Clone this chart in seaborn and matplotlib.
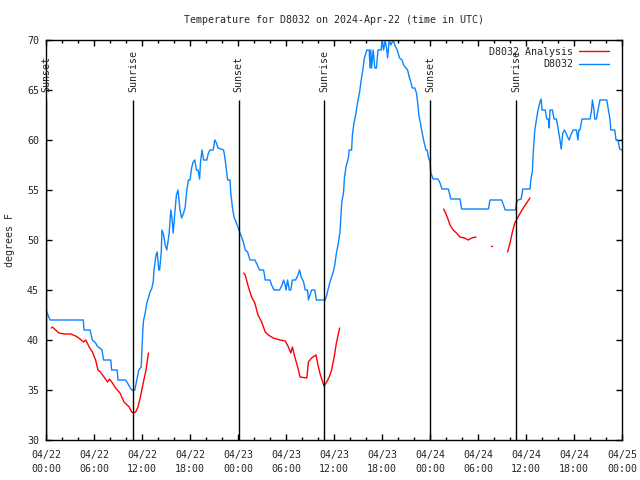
import numpy as np
import pandas as pd
import matplotlib
matplotlib.use("Agg")
import matplotlib.pyplot as plt
import matplotlib.dates as mdates
from matplotlib.lines import Line2D
import seaborn as sns

start = pd.Timestamp("2024-04-22 00:00")

# observed station temps (hours after start, deg F)
obs_hours = [0.0, 0.5, 4.67, 4.75, 5.5, 5.8, 6.2, 6.4, 7.0, 7.2, 8.1, 8.2, 8.9, 9.0, 9.96,
             10.7, 11.1, 11.6, 11.9, 12.1, 12.2, 12.4, 12.6, 12.8, 13.0, 13.2, 13.4, 13.5,
             13.75, 13.9, 14.1, 14.2, 14.4, 14.5, 14.7, 14.9, 15.1, 15.4, 15.6, 15.75, 15.9,
             16.1, 16.3, 16.5, 16.75, 16.96, 17.2, 17.4, 17.6, 17.8, 18.0, 18.2, 18.4, 18.6,
             18.8, 19.0, 19.2, 19.3, 19.5, 19.7, 20.1, 20.3, 20.5, 20.9, 21.1, 21.3, 21.5,
             22.2, 22.4, 22.6, 22.7, 23.0, 23.1, 23.3, 23.5, 23.75, 24.04, 24.25, 24.5, 24.7,
             24.9, 25.2, 25.5, 26.1, 26.3, 26.7, 27.2, 27.4, 28.0, 28.2, 28.5, 29.2, 29.5,
             29.7, 29.9, 30.0, 30.2, 30.4, 30.6, 30.8, 31.2, 31.5, 31.7, 31.9, 32.2, 32.4,
             32.7, 32.8, 33.0, 33.2, 33.6, 33.8, 34.9, 35.1, 35.3, 35.5, 35.7, 35.9, 36.1,
             36.3, 36.5, 36.75, 36.96, 37.2, 37.3, 37.5, 37.8, 37.9, 38.2, 38.3, 38.5, 38.75,
             38.96, 39.2, 39.4, 39.6, 39.8, 40.1, 40.4, 40.5, 40.6, 40.7, 40.9, 41.1, 41.3,
             41.5, 41.9, 42.0, 42.2, 42.4, 42.6, 42.7, 42.9, 43.1, 43.4, 43.6, 43.9, 44.2,
             44.5, 44.7, 45.0, 45.2, 45.4, 45.6, 45.8, 46.1, 46.3, 46.5, 46.6, 46.8, 47.0,
             47.25, 47.5, 47.65, 47.8, 48.0, 48.1, 48.4, 49.0, 49.25, 49.5, 50.3, 50.6, 51.75,
             51.96, 55.3, 55.5, 56.96, 57.4, 58.7, 58.8, 59.0, 59.4, 59.6, 60.5, 60.6, 60.8,
             60.9, 61.1, 61.3, 61.5, 61.75, 61.9, 62.0, 62.4, 62.6, 62.8, 62.9, 63.0, 63.3,
             63.5, 63.8, 64.0, 64.25, 64.4, 64.6, 64.8, 65.0, 65.2, 65.4, 65.6, 65.9, 66.3,
             66.5, 66.6, 66.75, 67.0, 68.0, 68.2, 68.3, 68.5, 68.6, 68.8, 69.0, 69.25, 70.1,
             70.3, 70.5, 70.6, 71.1, 71.25, 71.5, 71.7, 72.0]
obs_temps = [43.0, 42.0, 42.0, 41.0, 41.0, 40.0, 39.7, 39.4, 39.0, 38.0, 38.0, 37.0, 37.0, 36.0, 36.0,
             35.0, 35.0, 37.0, 37.3, 41.0, 42.0, 42.7, 43.7, 44.2, 44.8, 45.1, 45.8, 47.0,
             48.5, 48.8, 47.0, 47.0, 48.7, 51.0, 50.5, 49.5, 49.0, 50.7, 53.0, 52.2, 50.7,
             52.7, 54.5, 55.0, 53.0, 52.2, 52.7, 53.3, 55.0, 56.0, 56.0, 57.2, 57.8, 58.0,
             57.0, 57.0, 56.1, 57.7, 59.0, 58.0, 58.0, 58.7, 59.0, 59.0, 60.0, 59.7, 59.2,
             59.0, 58.0, 56.7, 56.0, 56.0, 54.7, 53.3, 52.3, 51.8, 51.2, 50.7, 50.2, 49.7,
             49.0, 48.8, 48.0, 48.0, 47.7, 47.0, 47.0, 46.0, 46.0, 45.5, 45.0, 45.0, 45.5,
             46.0, 45.5, 45.0, 46.0, 45.0, 45.0, 46.0, 46.0, 46.5, 47.0, 46.3, 45.8, 45.0,
             45.0, 44.0, 44.5, 45.0, 45.0, 44.0, 44.0, 44.5, 45.2, 45.8, 46.3, 46.8, 47.5,
             48.7, 49.5, 50.8, 53.7, 54.8, 56.2, 57.3, 58.2, 59.0, 59.0, 60.5, 61.7, 62.7,
             63.8, 64.8, 66.0, 67.0, 68.2, 69.0, 69.0, 67.2, 69.0, 67.2, 69.0, 67.2, 67.2,
             69.0, 69.0, 70.0, 69.0, 70.0, 69.0, 68.2, 70.0, 69.5, 70.0, 69.5, 69.0, 68.2,
             68.0, 67.5, 67.2, 67.0, 66.3, 65.8, 65.2, 65.2, 64.7, 63.5, 62.5, 61.7, 60.8,
             59.8, 59.0, 59.0, 58.3, 57.8, 56.7, 56.1, 56.1, 55.7, 55.1, 55.1, 54.1, 54.1,
             53.1, 53.1, 54.0, 54.0, 53.0, 53.0, 53.7, 54.0, 54.1, 55.1, 55.1, 56.0, 56.9,
             58.7, 61.0, 62.0, 63.0, 63.8, 64.1, 63.0, 63.0, 62.1, 62.1, 61.2, 63.0, 63.0,
             62.1, 62.1, 61.2, 60.0, 59.1, 60.7, 61.0, 60.7, 60.3, 60.0, 60.5, 61.0, 61.0,
             60.0, 61.0, 61.0, 62.1, 62.1, 63.0, 64.0, 63.0, 62.1, 62.1, 63.0, 64.0, 64.0,
             63.0, 62.1, 61.0, 61.0, 60.0, 60.0, 59.1, 59.0]

# analysis temps, nan marks a gap
ana_hours = [0.67, 0.8, 1.2, 1.6, 2.25, 3.1, 3.7, 4.1, 4.7, 4.96, 5.4, 5.8, 6.2, 6.5, 6.8, 7.25,
             7.7, 7.96, 8.3, 8.7, 9.25, 9.75, 10.4, 10.7, 10.9, 11.2, 11.5, 11.8, 12.1, 12.5, 12.8,
             np.nan,
             24.7, 24.9, 25.3, 25.7, 26.1, 26.5, 26.96, 27.4, 27.8, 28.4, 29.25, 29.9, 30.3,
             30.6, 30.8, 31.1, 31.5, 31.75, 32.6, 32.8, 33.2, 33.75, 34.0, 34.3, 34.75, 35.1,
             35.4, 35.7, 36.0, 36.3, 36.7,
             np.nan,
             49.7, 49.9, 50.2, 50.5, 50.9, 51.3, 51.75, 52.3, 52.8, 53.2, 53.75,
             np.nan,
             55.6, 55.8,
             np.nan,
             57.7, 58.0, 58.3, 58.6, 59.0, 59.5, 59.9, 60.5]
ana_temps = [41.2, 41.3, 41.0, 40.7, 40.6, 40.6, 40.4, 40.2, 39.8, 40.0, 39.3, 38.8, 38.0, 37.0, 36.8, 36.3,
             35.8, 36.1, 35.7, 35.2, 34.7, 33.8, 33.3, 32.8, 32.7, 32.8, 33.3, 34.3, 35.5, 37.0, 38.7,
             np.nan,
             46.7, 46.5, 45.3, 44.3, 43.7, 42.5, 41.8, 40.8, 40.5, 40.2, 40.0, 39.9, 39.3,
             38.7, 39.3, 38.3, 37.2, 36.3, 36.2, 37.8, 38.2, 38.5, 37.5, 36.5, 35.4, 35.8,
             36.3, 37.0, 38.2, 39.7, 41.2,
             np.nan,
             53.1, 52.8, 52.2, 51.5, 51.0, 50.7, 50.3, 50.2, 50.0, 50.2, 50.3,
             np.nan,
             49.4, 49.4,
             np.nan,
             48.8, 49.7, 50.8, 51.7, 52.3, 53.0, 53.5, 54.2]

sunset_hours = [0.05, 24.07, 48.0]
sunrise_hours = [10.87, 34.8, 58.75]

blue = "#0a84ff"


def to_time(hours):
    return start + pd.to_timedelta(np.asarray(hours, dtype=float), unit="h")


obs = pd.DataFrame({"time": to_time(obs_hours), "temp": obs_temps})
ana = pd.DataFrame({"hours": ana_hours, "temp": ana_temps})
ana["seg"] = ana["hours"].isna().cumsum()
ana = ana.dropna()
ana["time"] = to_time(ana["hours"])

sns.set_style("ticks")
plt.rcParams["font.family"] = ["DejaVu Sans Mono"]
plt.rcParams["font.size"] = 7.2

fig = plt.figure(figsize=(6.4, 4.8), dpi=100)
ax = fig.add_axes([46 / 640, 40 / 480, 576 / 640, 400 / 480])

sns.lineplot(data=obs, x="time", y="temp", ax=ax, color=blue, lw=1.0,
             estimator=None, sort=False, legend=False)
sns.lineplot(data=ana, x="time", y="temp", units="seg", ax=ax, color="red", lw=1.0,
             estimator=None, sort=False, legend=False)

# sun markers
for hrs, name in [(sunset_hours, "Sunset"), (sunrise_hours, "Sunrise")]:
    for t in to_time(hrs):
        ax.vlines(t, 30, 64, color="black", lw=1.0)
        ax.text(t, 64.8, name, rotation=90, ha="center", va="bottom", fontsize=7.2)

ax.set_xlim(start, start + pd.Timedelta(hours=72))
ax.set_ylim(30, 70)
ax.set_yticks(range(30, 71, 5))
ax.xaxis.set_major_locator(mdates.HourLocator(byhour=[0, 6, 12, 18]))
ax.xaxis.set_major_formatter(mdates.DateFormatter("%m/%d\n%H:%M"))
ax.xaxis.set_minor_locator(mdates.HourLocator(byhour=range(0, 24, 2)))
ax.tick_params(which="both", direction="in", top=True, right=True, color="black",
               labelsize=7.2, width=1.0)
ax.tick_params(which="major", length=4.5, pad=5)
ax.tick_params(axis="x", which="major", pad=7)
ax.tick_params(which="minor", length=2.2)
for lbl in ax.get_xticklabels():
    lbl.set_linespacing(1.55)
for s in ax.spines.values():
    s.set_color("black")
    s.set_linewidth(1.0)
ax.set_xlabel("")
ax.set_ylabel("")

fig.text(334 / 640, 1 - 20 / 480, "Temperature for D8032 on 2024-Apr-22 (time in UTC)",
         ha="center", va="center", fontsize=7.2)
fig.text(10 / 640, 0.5, "degrees F", rotation=90, ha="center", va="center", fontsize=7.2)

handles = [Line2D([], [], color="red", lw=1.0), Line2D([], [], color=blue, lw=1.0)]
ax.legend(handles, ["D8032 Analysis", "D8032"], loc="upper right", markerfirst=False,
          bbox_to_anchor=(1 - 6 / 576, 1), frameon=False, handlelength=3.0,
          handletextpad=0.6, labelspacing=0.25, borderaxespad=0.3, fontsize=7.2)

fig.savefig("out.png", dpi=100)
